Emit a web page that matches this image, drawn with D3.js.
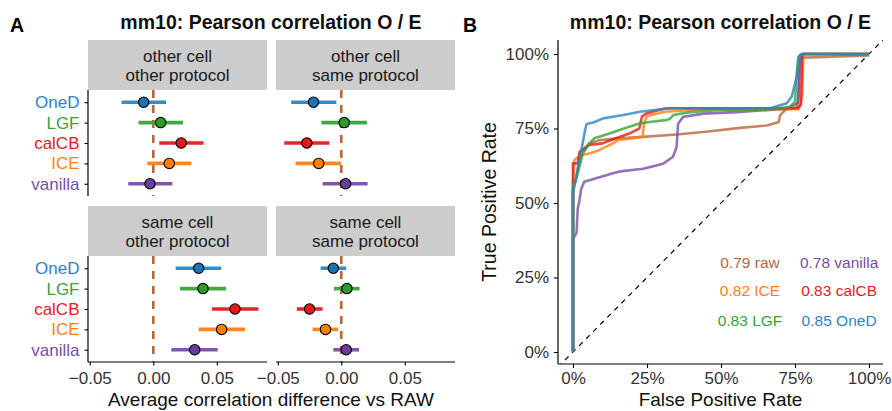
<!DOCTYPE html>
<html>
<head>
<meta charset="utf-8">
<script src="https://cdn.jsdelivr.net/npm/d3@7"></script>
<style>
  body { margin: 0; background: #fff; }
  svg { display: block; font-family: "Liberation Sans", Arial, sans-serif; }
</style>
</head>
<body>
<div class="fig"></div>
<script>
// ---- data ----
var methods = ["OneD", "LGF", "calCB", "ICE", "vanilla"]
var facetLabels = [
  ["other cell", "other protocol"],
  ["other cell", "same protocol"],
  ["same cell", "other protocol"],
  ["same cell", "same protocol"]
]
var meanDiff = [
  [-0.0076, 0.0058, 0.0220, 0.0126, -0.0026],
  [-0.0219, 0.0023, -0.0271, -0.0178, 0.0034],
  [0.0357, 0.0391, 0.0643, 0.0538, 0.0326],
  [-0.0063, 0.0044, -0.0250, -0.0124, 0.0039]
]
var lowerCI = [
  [-0.0250, -0.0116, 0.0047, -0.0047, -0.0197],
  [-0.0394, -0.0157, -0.0449, -0.0360, -0.0147],
  [0.0176, 0.0210, 0.0462, 0.0357, 0.0142],
  [-0.0163, -0.0058, -0.0350, -0.0226, -0.0063]
]
var upperCI = [
  [0.0100, 0.0234, 0.0396, 0.0299, 0.0150],
  [-0.0039, 0.0202, -0.0094, -0.0003, 0.0207],
  [0.0535, 0.0572, 0.0827, 0.0722, 0.0507],
  [0.0039, 0.0144, -0.0147, -0.0024, 0.0139]
]
var diffTicks = [-0.05, 0, 0.05]

// ROC curves, [fpr, tpr]
var rocRaw = [[0,0],[0,0.55],[0.01,0.577],[0.016,0.616],[0.027,0.667],[0.055,0.70],[0.09,0.711],[0.145,0.716],[0.235,0.722],[0.35,0.73],[0.44,0.738],[0.565,0.752],[0.655,0.76],[0.695,0.772],[0.70,0.795],[0.72,0.815],[0.755,0.82],[0.762,0.855],[0.767,0.985],[0.78,0.988],[1,0.995]]
var rocVanilla = [[0,0],[0,0.38],[0.012,0.40],[0.016,0.48],[0.022,0.51],[0.027,0.545],[0.038,0.571],[0.078,0.583],[0.135,0.60],[0.159,0.606],[0.237,0.615],[0.305,0.632],[0.338,0.655],[0.35,0.688],[0.355,0.766],[0.372,0.789],[0.44,0.80],[0.552,0.805],[0.72,0.816],[0.76,0.835],[0.767,0.99],[0.775,1],[1,1]]
var rocICE = [[0,0],[0,0.57],[0.005,0.645],[0.027,0.66],[0.055,0.666],[0.09,0.678],[0.112,0.689],[0.135,0.70],[0.152,0.711],[0.19,0.716],[0.235,0.722],[0.24,0.766],[0.25,0.792],[0.31,0.806],[0.45,0.815],[0.762,0.815],[0.775,0.86],[0.778,1],[1,1]]
var rocCalCB = [[0,0],[0,0.633],[0.016,0.633],[0.022,0.672],[0.055,0.695],[0.10,0.70],[0.145,0.717],[0.19,0.733],[0.224,0.75],[0.233,0.79],[0.247,0.80],[0.314,0.818],[0.76,0.818],[0.77,0.83],[0.775,1],[1,1]]
var rocLGF = [[0,0],[0,0.55],[0.016,0.60],[0.033,0.665],[0.055,0.70],[0.072,0.717],[0.089,0.722],[0.123,0.733],[0.157,0.745],[0.19,0.756],[0.224,0.767],[0.258,0.772],[0.314,0.778],[0.328,0.783],[0.339,0.795],[0.395,0.805],[0.485,0.811],[0.632,0.813],[0.689,0.817],[0.733,0.823],[0.75,0.84],[0.756,0.935],[0.761,0.99],[0.772,1],[1,1]]
var rocOneD = [[0,0],[0,0.532],[0.024,0.655],[0.041,0.745],[0.046,0.765],[0.069,0.77],[0.102,0.784],[0.17,0.795],[0.226,0.806],[0.328,0.818],[0.666,0.818],[0.722,0.835],[0.739,0.857],[0.756,0.924],[0.767,0.997],[0.78,1],[1,1]]
var rocTicks = [0, 0.25, 0.5, 0.75, 1]
var aucLabels = ["0.79 raw", "0.78 vanilla", "0.82 ICE", "0.83 calCB", "0.83 LGF", "0.85 OneD"]

var colors = {OneD: "#2d84c2", LGF: "#37a437", calCB: "#e41a1c", ICE: "#ff8010", vanilla: "#774fa8", raw: "#b7673c"}
var pointFill = {OneD: "#1f72b0", LGF: "#2f9a2b", calCB: "#e31a1c", ICE: "#ff7f00", vanilla: "#6a3d9a"}

var W = 892, H = 411
var svg = d3.select(".fig").append("svg").attr("width", W).attr("height", H)

// ---- panel A ----
var panelW = 179, panelH = 106
var cols = [88, 276]
var rowsTop = [90, 256]
var stripH = 50

var x = d3.scaleLinear().domain([-0.0514, 0.0895]).range([0, panelW])
var y = d3.scalePoint().domain(methods).range([0, panelH]).padding(0.6)
var minus = function(d){ return d3.format(".2f")(d).replace("-", "\u2212") }

svg.append("text").attr("x", 10).attr("y", 32).attr("font-size", 19.5).attr("font-weight", "bold").text("A")
svg.append("text").attr("x", 271).attr("y", 29.3).attr("text-anchor", "middle")
  .attr("font-size", 19.5).attr("font-weight", "bold").attr("fill", "#111").text("mm10: Pearson correlation O / E")

facetLabels.forEach(function(lab, f){
  var c = f % 2, r = Math.floor(f / 2)
  var px = cols[c], py = rowsTop[r]
  var strip = svg.append("g").attr("transform", "translate(" + px + "," + (py - stripH) + ")")
  strip.append("rect").attr("width", panelW).attr("height", stripH).attr("fill", "#cccccc")
  strip.append("text").attr("x", panelW / 2).attr("y", 22.3).attr("text-anchor", "middle")
    .attr("font-size", 17).attr("fill", "#1a1a1a").text(lab[0])
  strip.append("text").attr("x", panelW / 2).attr("y", 40.5).attr("text-anchor", "middle")
    .attr("font-size", 17).attr("fill", "#1a1a1a").text(lab[1])

  var g = svg.append("g").attr("transform", "translate(" + px + "," + py + ")")

  g.append("line").attr("x1", x(0)).attr("x2", x(0)).attr("y1", 0).attr("y2", panelH)
    .attr("stroke", colors.raw).attr("stroke-width", 2.6).attr("stroke-dasharray", "8,7")

  g.selectAll(".err").data(methods).enter().append("line")
    .attr("x1", function(d, i){ return x(lowerCI[f][i]) })
    .attr("x2", function(d, i){ return x(upperCI[f][i]) })
    .attr("y1", function(d){ return y(d) }).attr("y2", function(d){ return y(d) })
    .attr("stroke", function(d){ return colors[d] }).attr("stroke-width", 3.6).attr("stroke-opacity", 0.95)

  g.selectAll(".pt").data(methods).enter().append("circle")
    .attr("cx", function(d, i){ return x(meanDiff[f][i]) })
    .attr("cy", function(d){ return y(d) })
    .attr("r", 5.2).attr("fill", function(d){ return pointFill[d] })
    .attr("stroke", "#000").attr("stroke-width", 1.1)

  if (c == 0) {
    var ya = g.append("g").call(d3.axisLeft(y).tickSize(3.5).tickPadding(5))
    ya.select(".domain").attr("stroke-width", 1.2).attr("d", "M0,0V" + panelH)
    ya.selectAll(".tick line").attr("stroke-width", 1.1)
    ya.selectAll(".tick text").attr("font-size", 17).attr("font-family", "Liberation Sans, Arial, sans-serif")
      .attr("fill", function(d){ return colors[d] })
  }
  if (r == 1) {
    var xa = g.append("g").attr("transform", "translate(0," + panelH + ")")
      .call(d3.axisBottom(x).tickValues(diffTicks).tickFormat(minus).tickSize(3.5).tickPadding(6.5))
    xa.select(".domain").attr("stroke-width", 1.2).attr("d", "M0,0H" + panelW)
    xa.selectAll(".tick line").attr("stroke-width", 1.1)
    xa.selectAll(".tick text").attr("font-size", 17).attr("font-family", "Liberation Sans, Arial, sans-serif").attr("fill", "#333")
  }
})

svg.append("text").attr("x", 271).attr("y", 405.5).attr("text-anchor", "middle")
  .attr("font-size", 19).attr("fill", "#111").text("Average correlation difference vs RAW")

// ---- panel B ----
var bx = d3.scaleLinear().domain([0, 1]).range([573, 869])
var by = d3.scaleLinear().domain([0, 1]).range([352, 54])
var bLeft = 558, bRight = 883, bTop = 40, bBottom = 364

svg.append("text").attr("x", 463).attr("y", 32).attr("font-size", 19.5).attr("font-weight", "bold").text("B")
svg.append("text").attr("x", 720.5).attr("y", 29.3).attr("text-anchor", "middle")
  .attr("font-size", 19.5).attr("font-weight", "bold").attr("fill", "#111").text("mm10: Pearson correlation O / E")

svg.append("defs").append("clipPath").attr("id", "clipB")
  .append("rect").attr("x", bLeft).attr("y", bTop).attr("width", bRight - bLeft).attr("height", bBottom - bTop)

var plot = svg.append("g").attr("clip-path", "url(#clipB)")
var lo = bx.invert(bLeft), hi = bx.invert(bRight)
plot.append("line").attr("x1", bx(lo)).attr("y1", by(lo)).attr("x2", bx(hi)).attr("y2", by(hi))
  .attr("stroke", "#000").attr("stroke-width", 1.2).attr("stroke-dasharray", "5,5")

var rocSeries = [
  {name: "raw", pts: rocRaw},
  {name: "vanilla", pts: rocVanilla},
  {name: "ICE", pts: rocICE},
  {name: "calCB", pts: rocCalCB},
  {name: "LGF", pts: rocLGF},
  {name: "OneD", pts: rocOneD}
]
var line = d3.line().x(function(d){ return bx(d[0]) }).y(function(d){ return by(d[1]) })
plot.selectAll(".roc").data(rocSeries).enter().append("path")
  .attr("d", function(d){ return line(d.pts) })
  .attr("fill", "none").attr("stroke", function(d){ return colors[d.name] })
  .attr("stroke-width", 2.6).attr("stroke-opacity", 0.8).attr("stroke-linejoin", "round")

var pct = function(d){ return Math.round(d * 100) + "%" }
var yaB = svg.append("g").attr("transform", "translate(" + bLeft + ",0)")
  .call(d3.axisLeft(by).tickValues(rocTicks).tickFormat(pct).tickSize(4).tickPadding(5))
yaB.select(".domain").attr("stroke-width", 1.2).attr("d", "M0," + bTop + "V" + bBottom)
var xaB = svg.append("g").attr("transform", "translate(0," + bBottom + ")")
  .call(d3.axisBottom(bx).tickValues(rocTicks).tickFormat(pct).tickSize(4).tickPadding(4))
xaB.select(".domain").attr("stroke-width", 1.2).attr("d", "M" + bLeft + ",0H" + bRight)
svg.selectAll(".tick line").attr("stroke-width", 1.1)
yaB.selectAll(".tick text").attr("font-size", 17).attr("font-family", "Liberation Sans, Arial, sans-serif").attr("fill", "#333")
xaB.selectAll(".tick text").attr("font-size", 17).attr("font-family", "Liberation Sans, Arial, sans-serif").attr("fill", "#333")

svg.append("text").attr("x", 720.5).attr("y", 405.5).attr("text-anchor", "middle")
  .attr("font-size", 19).attr("fill", "#111").text("False Positive Rate")
svg.append("text").attr("transform", "translate(496,202) rotate(-90)").attr("text-anchor", "middle")
  .attr("font-size", 19.5).attr("fill", "#111").text("True Positive Rate")

// AUC annotations, two columns
var aucCols = [0.598, 0.899], aucRows = [0.30, 0.205, 0.107]
var aucNames = ["raw", "vanilla", "ICE", "calCB", "LGF", "OneD"]
aucLabels.forEach(function(t, i){
  svg.append("text").attr("x", bx(aucCols[i % 2])).attr("y", by(aucRows[Math.floor(i / 2)]) + 5.5)
    .attr("text-anchor", "middle").attr("font-size", 15.5).attr("fill", colors[aucNames[i]]).text(t)
})
</script>
</body>
</html>
